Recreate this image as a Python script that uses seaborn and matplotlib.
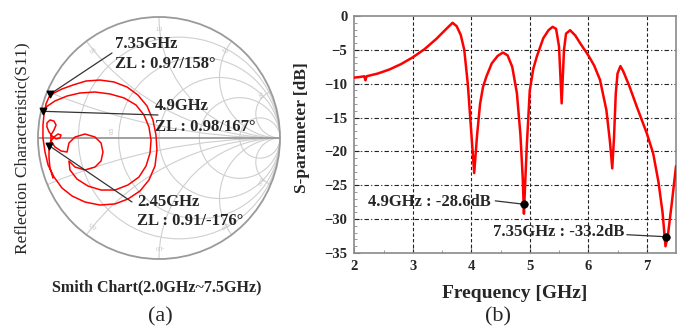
import numpy as np
import pandas as pd
import matplotlib
matplotlib.use("Agg")
import matplotlib.pyplot as plt
import seaborn as sns
from matplotlib.patches import Circle

sns.set_style("ticks")
plt.rcParams['font.family'] = ['Liberation Serif', 'DejaVu Serif']

# ---------------- data ----------------
# (b) S11 magnitude vs frequency
freq_ghz = [2.00, 2.10, 2.17, 2.19, 2.21, 2.40, 2.60, 2.80, 3.00, 3.20, 3.40, 3.55,
            3.68, 3.75, 3.82, 3.88, 3.94, 3.99, 4.05, 4.10, 4.15, 4.20, 4.26, 4.35,
            4.45, 4.54, 4.62, 4.70, 4.78, 4.84, 4.88, 4.90, 4.92, 4.95, 5.00, 5.06,
            5.12, 5.23, 5.32, 5.39, 5.45, 5.50, 5.545, 5.585, 5.62, 5.69, 5.78, 5.86,
            6.00, 6.10, 6.20, 6.31, 6.37, 6.41, 6.44, 6.47, 6.50, 6.55, 6.60, 6.70,
            6.83, 7.00, 7.11, 7.20, 7.27, 7.32, 7.36, 7.43, 7.50]
s11_db = [-9.1, -9.0, -8.9, -9.5, -8.9, -8.5, -7.9, -7.1, -6.1, -4.9, -3.4, -2.1,
          -1.0, -1.5, -2.8, -5.0, -10.0, -16.0, -23.2, -17.5, -13.0, -10.5, -8.9, -7.0,
          -5.9, -5.4, -5.8, -7.5, -11.4, -17.5, -24.0, -29.2, -25.0, -19.0, -11.0, -7.8,
          -6.0, -3.3, -2.1, -1.6, -1.9, -4.5, -12.9, -5.0, -2.6, -2.1, -2.9, -4.0,
          -5.8, -7.3, -9.4, -13.9, -18.5, -22.5, -18.0, -11.5, -8.5, -7.4, -8.2, -10.3,
          -13.4, -17.3, -20.3, -24.5, -29.0, -34.0, -32.5, -27.5, -22.2]
mark_freq = [4.9, 7.33]
mark_db = [-27.8, -32.6]
mark_labels = ["4.9GHz : -28.6dB", "7.35GHz : -33.2dB"]

# (a) reflection coefficient trace on the Smith chart (real, imag of Gamma)
gamma_re = [-0.876, -0.901, -0.909, -0.909, -0.909, -0.893, -0.868, -0.835, -0.810, -0.818,
            -0.851, -0.884, -0.909, -0.926, -0.926, -0.901, -0.868, -0.851, -0.868, -0.893,
            -0.893, -0.860, -0.810, -0.760, -0.744, -0.694, -0.612, -0.529, -0.479, -0.463,
            -0.479, -0.529, -0.612, -0.694, -0.744, -0.736, -0.678, -0.587, -0.479, -0.364,
            -0.256, -0.165, -0.107, -0.074, -0.066, -0.083, -0.124, -0.190, -0.289, -0.405,
            -0.529, -0.653, -0.760, -0.860, -0.934, -0.950, -0.959, -0.959, -0.942, -0.917,
            -0.868, -0.802, -0.719, -0.612, -0.488, -0.364, -0.256, -0.157, -0.083, -0.033,
            -0.017, -0.025, -0.050, -0.099, -0.174, -0.264, -0.372, -0.488, -0.603, -0.711,
            -0.802, -0.868, -0.909, -0.934, -0.942]
gamma_im = [-0.331, -0.248, -0.165, -0.099, -0.066, -0.025, 0.008, 0.033, 0.025, 0.0,
            -0.008, 0.017, 0.050, 0.091, 0.124, 0.149, 0.140, 0.107, 0.066, 0.025,
            -0.025, -0.074, -0.107, -0.116, -0.041, 0.008, 0.033, 0.008, -0.041, -0.116,
            -0.190, -0.240, -0.264, -0.240, -0.190, -0.264, -0.339, -0.397, -0.430, -0.430,
            -0.388, -0.322, -0.231, -0.124, -0.017, 0.091, 0.190, 0.273, 0.331, 0.364,
            0.380, 0.372, 0.347, 0.306, 0.256, 0.198, 0.107, 0.0, -0.116, -0.223,
            -0.322, -0.413, -0.479, -0.529, -0.554, -0.545, -0.504, -0.438, -0.347, -0.231,
            -0.099, 0.025, 0.149, 0.264, 0.355, 0.421, 0.463, 0.479, 0.471, 0.438,
            0.405, 0.372, 0.339, 0.281, 0.231]
smith_mag = [0.97, 0.98, 0.91]
smith_ang = [158, 167, -176]
smith_freq_labels = ["7.35GHz", "4.9GHz", "2.45GHz"]
smith_zl_labels = ["ZL : 0.97/158°", "ZL : 0.98/167°", "ZL : 0.91/-176°"]
smith_r = [0.2, 0.5, 1.0, 2.0, 5.0]
smith_x = [0.2, 0.5, 1.0, 2.0, 5.0]

W, H = 684, 329
fig = plt.figure(figsize=(W / 100, H / 100), dpi=100)
fig.patch.set_facecolor("white")

def fx(px):
    return px / W

def fy(py):
    return 1 - py / H

# ---------------- (a) Smith chart ----------------
cx, cy, R = 159, 138, 121
lim = 1.05
axs = fig.add_axes([fx(cx - R * lim), fy(cy + R * lim), 2 * R * lim / W, 2 * R * lim / H])
axs.set_xlim(-lim, lim)
axs.set_ylim(-lim, lim)
axs.axis("off")

gridc = "#cfcfcf"
clip = Circle((0, 0), 1, transform=axs.transData, facecolor="none", edgecolor="none")
axs.add_patch(clip)
for r in smith_r:
    c = Circle((r / (1 + r), 0), 1 / (1 + r), fill=False, color=gridc, lw=0.8)
    axs.add_patch(c)
    c.set_clip_path(clip)
for xv in smith_x:
    for s in (1, -1):
        c = Circle((1, s / xv), 1 / xv, fill=False, color=gridc, lw=0.8)
        axs.add_patch(c)
        c.set_clip_path(clip)
axs.add_patch(Circle((0, 0), 1, fill=False, color="#9a9a9a", lw=1.3))
axs.plot([-1, 1], [0, 0], color="#9a9a9a", lw=1.3)
axs.text(-0.39, 0.06, "0.5", fontsize=4, color="#b0b0b0", rotation=90, ha="center", va="center")
for lab, ang in [("1.0", 90), ("2.0", 53), ("5.0", 23), ("0.5", 127), ("-1.0", -90), ("-2.0", -53), ("-5.0", -23), ("-0.5", -127)]:
    a = np.deg2rad(ang)
    axs.text(0.9 * np.cos(a), 0.9 * np.sin(a), lab, fontsize=4, color="#b8b8b8",
             rotation=ang - 90, ha="center", va="center")

trace = pd.DataFrame({"re": gamma_re, "im": gamma_im})
sns.lineplot(data=trace, x="re", y="im", sort=False, estimator=None, color="red", lw=1.1, ax=axs)
axs.set_xlim(-lim, lim)
axs.set_ylim(-lim, lim)
axs.axis("off")

mre = [m * np.cos(np.deg2rad(a)) for m, a in zip(smith_mag, smith_ang)]
mim = [m * np.sin(np.deg2rad(a)) for m, a in zip(smith_mag, smith_ang)]
ends = [(112, 53), (158, 115), (132, 202)]
for (ex, ey), xr, xi in zip(ends, mre, mim):
    axs.plot([xr, (ex - cx) / R], [xi, (cy - ey) / R], color="#333333", lw=0.9)
axs.scatter(mre, mim, marker="v", s=22, color="black", zorder=5)

txt_pos = [(115, 44, 64), (155, 106, 127), (137, 202, 221)]
for (tx, ty1, ty2), f1, f2 in zip(txt_pos, smith_freq_labels, smith_zl_labels):
    fig.text(fx(tx), fy(ty1), f1, fontsize=12, fontweight="bold", ha="left", va="center")
    fig.text(fx(tx), fy(ty2), f2, fontsize=12, fontweight="bold", ha="left", va="center")

fig.text(fx(22), fy(148), "Reflection Characteristic(S11)", fontsize=12.5, rotation=90,
         ha="center", va="center")
fig.text(fx(157), fy(287), "Smith Chart(2.0GHz~7.5GHz)", fontsize=11.5, fontweight="bold",
         ha="center", va="center")
fig.text(fx(160), fy(317), "(a)", fontsize=16, ha="center", va="center")

# ---------------- (b) S-parameter ----------------
ax = fig.add_axes([fx(354.3), fy(253), 321.7 / W, 237 / H])
df = pd.DataFrame({"f": freq_ghz, "s": s11_db})
sns.lineplot(data=df, x="f", y="s", sort=False, estimator=None, color="red", lw=1.8, ax=ax, zorder=3)
ax.set_xlim(2, 7.5)
ax.set_ylim(-35, 0)
ax.set_xticks([2, 3, 4, 5, 6, 7])
ax.set_yticks([0, -5, -10, -15, -20, -25, -30, -35])
ax.set_xticks(np.arange(2.5, 7.5, 1.0), minor=True)
ax.set_yticks(np.arange(-35, 0, 1), minor=True)
ax.tick_params(axis="both", which="both", direction="in", color="#888888")
ax.tick_params(axis="both", which="major", length=4, labelsize=10.5, pad=5)
ax.tick_params(axis="both", which="minor", length=2.5)
for lbl in ax.get_xticklabels() + ax.get_yticklabels():
    lbl.set_fontweight("bold")
for sp in ax.spines.values():
    sp.set_color("#8a8a8a")
    sp.set_linewidth(1.2)
for xv in [3, 4, 5, 6, 7]:
    ax.axvline(xv, color="#222222", lw=0.8, ls=(0, (3, 2)), zorder=1)
for yv in [-5, -10, -15, -20, -25, -30]:
    ax.axhline(yv, color="#222222", lw=0.8, ls=(0, (4, 2, 1, 2)), zorder=1)

sns.scatterplot(x=mark_freq, y=mark_db, color="black", s=30, ax=ax, zorder=5, edgecolor="black")
ax.plot([4.41, mark_freq[0]], [-27.3, mark_db[0]], color="#333333", lw=0.9, zorder=4)
ax.plot([6.66, mark_freq[1]], [-32.3, mark_db[1]], color="#333333", lw=0.9, zorder=4)
ax.text(2.23, -27.5, mark_labels[0], fontsize=12, fontweight="bold", ha="left", va="center", zorder=6)
ax.text(6.62, -31.95, mark_labels[1], fontsize=12, fontweight="bold", ha="right", va="center", zorder=6)

ax.set_xlabel("")
ax.set_ylabel("")
fig.text(fx(302), fy(128), "S-parameter [dB]", fontsize=12.5, fontweight="bold", rotation=90,
         ha="center", va="center")
fig.text(fx(515), fy(294), "Frequency [GHz]", fontsize=14, fontweight="bold", ha="center", va="center")
fig.text(fx(498), fy(317), "(b)", fontsize=16, ha="center", va="center")

fig.savefig("out.png", dpi=100, facecolor="white")
